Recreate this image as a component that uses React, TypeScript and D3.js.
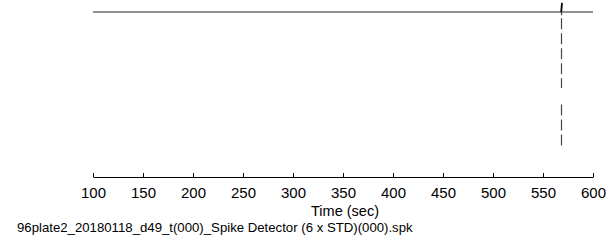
import React, { useEffect, useRef } from "react";
import * as d3 from "d3";

// x axis ticks (sec)
const xTicks = [100, 150, 200, 250, 300, 350, 400, 450, 500, 550, 600];
// trace level and spike time
const traceLevel = 1;
const spikeTimes = [568];
const spikeTop = 1.055;
// dashed marker segments (in y units)
const markerSegments = [
  [1, 0.98],
  [0.962, 0.54],
  [0.44, 0.19],
];
const xLabel = "Time (sec)";
const fileName = "96plate2_20180118_d49_t(000)_Spike Detector (6 x STD)(000).spk";

const W = 613;
const H = 240;

export default function App() {
  const ref = useRef<SVGSVGElement>(null);

  useEffect(() => {
    const svg = d3.select(ref.current);
    svg.selectAll("*").remove();

    const margin = { top: 12, left: 93, bottom: 63, right: 20 };
    const x = d3.scaleLinear().domain([100, 600]).range([margin.left, W - margin.right]);
    const y = d3.scaleLinear().domain([0, 1]).range([H - margin.bottom, margin.top]);

    // trace
    svg.append("line")
      .attr("x1", x(100)).attr("x2", x(600))
      .attr("y1", y(traceLevel)).attr("y2", y(traceLevel))
      .attr("stroke", "#222").attr("stroke-width", 1.1);

    // dashed marker
    spikeTimes.forEach(t => {
      markerSegments.forEach((s, i) => {
        svg.append("line")
          .attr("x1", x(t) + 0.5).attr("x2", x(t) + 0.5)
          .attr("y1", y(s[0])).attr("y2", y(s[1]))
          .attr("stroke", "#444").attr("stroke-width", 1.2)
          .attr("stroke-dasharray", i === 0 ? null : "11,4");
      });
      svg.append("line")
        .attr("x1", x(t) + 0.2).attr("x2", x(t) + 1)
        .attr("y1", y(traceLevel)).attr("y2", y(spikeTop))
        .attr("stroke", "#000").attr("stroke-width", 1.8);
    });

    // axis
    const axis = d3.axisBottom(x).tickValues(xTicks).tickSizeInner(-4).tickSizeOuter(0).tickPadding(0);
    const g = svg.append("g")
      .attr("transform", `translate(0,${y(0)})`)
      .call(axis);
    g.select(".domain").attr("stroke", "#000");
    g.selectAll(".tick line").attr("stroke", "#000");
    g.selectAll(".tick text")
      .attr("y", 21)
      .attr("dy", null)
      .attr("fill", "#000")
      .attr("font-size", 15)
      .attr("font-family", "Liberation Sans, Arial, sans-serif");

    svg.append("text")
      .attr("x", x(350) + 2).attr("y", 216)
      .attr("text-anchor", "middle")
      .attr("font-size", 14.5)
      .attr("font-family", "Liberation Sans, Arial, sans-serif")
      .text(xLabel);

    svg.append("text")
      .attr("x", 17).attr("y", 232)
      .attr("font-size", 13.2)
      .attr("font-family", "Liberation Sans, Arial, sans-serif")
      .text(fileName);
  }, []);

  return (
    <svg ref={ref} width={W} height={H}
      style={{ position: "absolute", left: 0, top: 0, background: "#fff" }} />
  );
}
